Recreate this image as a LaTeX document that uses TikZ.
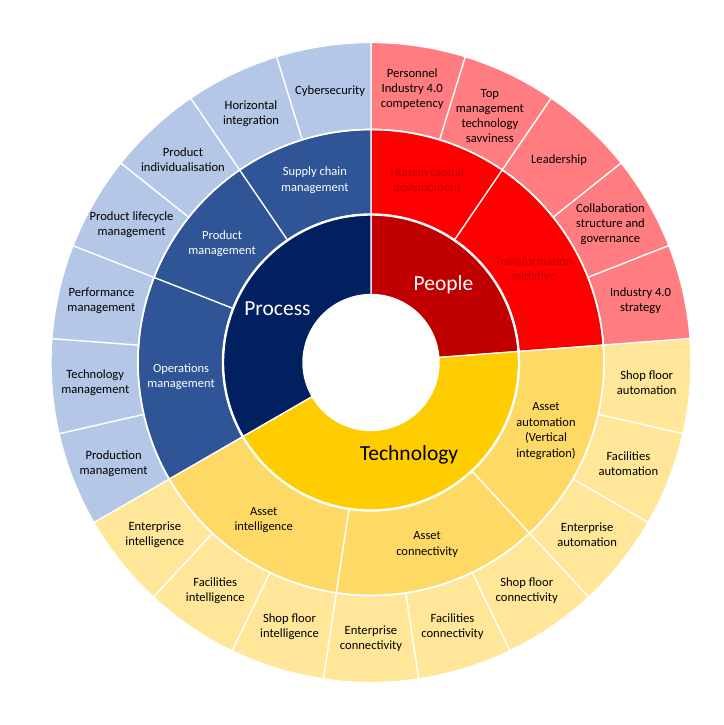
\documentclass[tikz,border=0pt]{standalone}
\usepackage{fontspec}
\setmainfont{Carlito}
\definecolor{procI}{RGB}{0,32,96}
\definecolor{procM}{RGB}{47,85,151}
\definecolor{procO}{RGB}{180,199,231}
\definecolor{peopI}{RGB}{192,0,0}
\definecolor{peopM}{RGB}{255,0,0}
\definecolor{peopO}{RGB}{255,124,128}
\definecolor{techI}{RGB}{255,204,0}
\definecolor{techM}{RGB}{255,217,102}
\definecolor{techO}{RGB}{255,230,153}
\def\u{17.1428571}
\newcommand{\sect}[5]{%
  \filldraw[fill=#1, draw=white, line width=1.3pt]
    ({90-(#2)*\u}:#4pt) arc[start angle={90-(#2)*\u}, end angle={90-(#3)*\u}, radius=#4pt]
    -- ({90-(#3)*\u}:#5pt) arc[start angle={90-(#3)*\u}, end angle={90-(#2)*\u}, radius=#5pt] -- cycle;}
\tikzset{
  outlab/.style={font=\fontsize{12.6}{15}\selectfont, align=center, text=black, inner sep=0pt},
  midlab/.style={font=\fontsize{12.5}{15.5}\selectfont, align=center, inner sep=0pt},
  inlab/.style={font=\fontsize{21.5}{24}\selectfont, inner sep=0pt},
}
\begin{document}
\begin{tikzpicture}[x=1pt,y=1pt]
\useasboundingbox (-371,-362.5) rectangle (352,362.5);
\fill[white] (-371,-362.5) rectangle (352,362.5);
% outer ring
\foreach \i in {0,...,4}{\sect{peopO}{\i}{\i+1}{233}{320}}
\foreach \i in {5,...,13}{\sect{techO}{\i}{\i+1}{233}{320}}
\foreach \i in {14,...,20}{\sect{procO}{\i}{\i+1}{233}{320}}
% middle ring
\sect{peopM}{0}{2}{148}{233}
\sect{peopM}{2}{5}{148}{233}
\sect{techM}{5}{8}{148}{233}
\sect{techM}{8}{11}{148}{233}
\sect{techM}{11}{14}{148}{233}
\sect{procM}{14}{17}{148}{233}
\sect{procM}{17}{19}{148}{233}
\sect{procM}{19}{21}{148}{233}
% inner ring
\sect{peopI}{0}{5}{68}{148}
\sect{techI}{5}{14}{68}{148}
\sect{procI}{14}{21}{68}{148}
\draw[white, line width=2.4pt] (0,0) circle[radius=148pt];
\draw[white, line width=1.6pt] (0,0) circle[radius=233pt];
% inner labels
\node[inlab, text=white] (process) at ({90-17.5*\u}:108pt) {Process};
\node[inlab, text=white] (people) at ({90-2.5*\u}:106.5pt) {People};
\node[inlab, text=black] (technology) at (38,-92.5) {Technology};
% middle labels
\node[midlab, text=peopI] (hcd) at ({90-1*\u}:190.5pt) {Human capital\\development};
\node[midlab, text=peopI] (ti) at ({90-3.5*\u}:188pt) {Transformation\\initiative};
\node[midlab, text=black] (aa) at ({90-6.5*\u}:188pt) {Asset\\automation\\(Vertical\\integration)};
\node[midlab, text=black] (ac) at ({90-9.5*\u}:190.5pt) {Asset\\connectivity};
\node[midlab, text=black] (ai) at ({90-12.5*\u}:190.5pt) {Asset\\intelligence};
\node[midlab, text=white] (om) at ({90-15.5*\u}:190.5pt) {Operations\\management};
\node[midlab, text=white] (pm) at ({90-18*\u}:190.5pt) {Product\\management};
\node[midlab, text=white] (scm) at ({90-20*\u}:190.5pt) {Supply chain\\management};
% outer labels
\node[outlab] (o0) at ({90-0.5*\u}:276.5pt) {Personnel\\Industry 4.0\\competency};
\node[outlab] (o1) at ({90-1.5*\u}:274pt) {Top\\management\\technology\\savviness};
\node[outlab] (o2) at ({90-2.5*\u}:276.5pt) {Leadership};
\node[outlab] (o3) at ({90-3.5*\u}:276.5pt) {Collaboration\\structure and\\governance};
\node[outlab] (o4) at ({90-4.5*\u}:276.5pt) {Industry 4.0\\strategy};
\node[outlab] (o5) at ({90-5.5*\u}:276.5pt) {Shop floor\\automation};
\node[outlab] (o6) at ({90-6.5*\u}:276.5pt) {Facilities\\automation};
\node[outlab] (o7) at ({90-7.5*\u}:276.5pt) {Enterprise\\automation};
\node[outlab] (o8) at ({90-8.5*\u}:276.5pt) {Shop floor\\connectivity};
\node[outlab] (o9) at ({90-9.5*\u}:276.5pt) {Facilities\\connectivity};
\node[outlab] (o10) at ({90-10.5*\u}:276.5pt) {Enterprise\\connectivity};
\node[outlab] (o11) at ({90-11.5*\u}:276.5pt) {Shop floor\\intelligence};
\node[outlab] (o12) at ({90-12.5*\u}:276.5pt) {Facilities\\intelligence};
\node[outlab] (o13) at ({90-13.5*\u}:276.5pt) {Enterprise\\intelligence};
\node[outlab] (o14) at ({90-14.5*\u}:276.5pt) {Production\\management};
\node[outlab] (o15) at ({90-15.5*\u}:276.5pt) {Technology\\management};
\node[outlab] (o16) at ({90-16.5*\u}:276.5pt) {Performance\\management};
\node[outlab] (o17) at ({90-17.5*\u}:276.5pt) {Product lifecycle\\management};
\node[outlab] (o18) at ({90-18.5*\u}:276.5pt) {Product\\individualisation};
\node[outlab] (o19) at ({90-19.5*\u}:276.5pt) {Horizontal\\integration};
\node[outlab] (o20) at ({90-20.5*\u}:274pt) {Cybersecurity};
\end{tikzpicture}
\end{document}
